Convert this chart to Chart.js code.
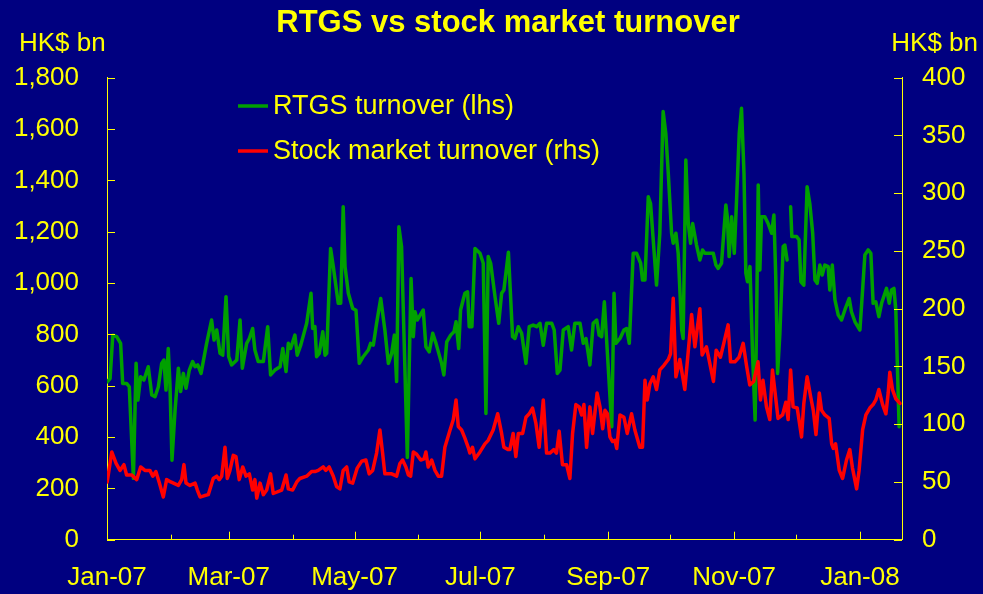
<!DOCTYPE html>
<html>
<head>
<meta charset="utf-8">
<script src="https://cdn.jsdelivr.net/npm/chart.js@4/dist/chart.umd.min.js"></script>
<style>
  html, body { margin: 0; padding: 0; background: #000080; }
  canvas { display: block; }
</style>
</head>
<body>
<canvas id="chart" width="983" height="594"></canvas>
<script>
// x values are days counted from 1 Jan 2007
const monthDay = [0, 31, 59, 90, 120, 151, 181, 212, 243, 273, 304, 334, 365];
const monthLabel = ["Jan-07", "Feb-07", "Mar-07", "Apr-07", "May-07", "Jun-07", "Jul-07",
  "Aug-07", "Sep-07", "Oct-07", "Nov-07", "Dec-07", "Jan-08"];
const leftTicks = [0, 200, 400, 600, 800, 1000, 1200, 1400, 1600, 1800];
const rightTicks = [0, 50, 100, 150, 200, 250, 300, 350, 400];

// RTGS turnover, HK$ bn (lhs)
const rtgsDay = [
  0.1, 1.5, 2.8, 4.7, 6.6, 7.6, 9.5, 10.8, 12.8, 14.1,
  15.0, 16.3, 17.9, 20.0, 21.7, 23.3, 24.9, 26.5, 27.6, 28.6,
  29.7, 30.5, 31.5, 33.0, 34.6, 35.7, 37.0, 38.3, 39.9, 41.5,
  42.7, 44.0, 45.6, 48.3, 50.7, 51.9, 53.2, 54.8, 56.1, 57.7,
  59.0, 60.4, 62.9, 64.5, 65.6, 67.7, 69.0, 70.6, 71.7, 73.3,
  75.8, 77.9, 79.3, 81.4, 83.9, 85.2, 86.8, 87.9, 89.0, 91.1,
  92.2, 94.0, 96.8, 98.9, 99.7, 100.8, 101.6, 102.9, 104.6, 105.7,
  106.5, 108.4, 109.7, 112.1, 113.3, 114.5, 115.4, 117.0, 119.1, 120.7,
  122.3, 124.2, 126.7, 127.8, 129.1, 130.7, 132.7, 134.7, 136.4, 138.0,
  139.3, 140.4, 141.5, 142.8, 145.6, 147.4, 148.5, 149.3, 150.4, 151.4,
  153.3, 154.6, 156.2, 157.9, 159.5, 162.2, 163.3, 164.7, 166.6, 168.2,
  169.2, 170.5, 171.4, 173.5, 174.8, 175.6, 176.9, 178.4, 180.8, 182.4,
  183.7, 184.8, 186.0, 188.1, 189.9, 191.3, 192.4, 194.6, 196.6, 197.8,
  199.4, 201.0, 203.1, 204.7, 206.6, 208.3, 209.9, 211.5, 213.1, 215.6,
  216.8, 218.3, 219.6, 221.2, 223.6, 225.2, 226.8, 229.3, 230.9, 232.2,
  234.1, 235.7, 237.4, 238.6, 239.8, 241.1, 244.7, 245.8, 246.7, 248.7,
  250.6, 251.9, 253.2, 255.1, 256.7, 258.7, 259.6, 260.8, 262.4, 263.5,
  264.8, 266.4, 268.0, 269.6, 270.9, 272.1, 273.7, 274.5, 275.8, 276.9,
  278.6, 279.3, 280.6, 281.8, 282.9, 283.9, 285.8, 287.4, 288.7, 289.8,
  293.9, 295.2, 296.3, 297.9, 300.0, 300.7, 301.6, 302.8, 304.1, 305.2,
  306.5, 307.6, 308.8, 309.7, 310.5, 311.7, 313.0, 314.2, 314.9, 315.7,
  316.5, 317.3, 318.9, 320.5, 322.2, 323.3, 324.2, 325.1, 326.2, 327.8,
  328.6, 329.7, 330.5, 331.4, 332.0, 334.3, 335.5, 336.4, 337.8, 339.4,
  340.7, 342.1, 343.2, 344.3, 345.6, 346.7, 348.0, 349.6, 350.4, 351.6,
  352.9, 354.5, 356.1, 357.7, 359.8, 360.9, 362.6, 365.0, 366.3, 367.4,
  369.0, 370.3, 371.4, 372.7, 374.2, 375.5, 377.9, 379.2, 380.3, 381.5,
  382.4, 384.0
];
const rtgsValue = [
  615, 628, 797, 791, 765, 609, 609, 596, 239, 687,
  544, 635, 622, 674, 564, 557, 596, 687, 700, 583,
  745, 609, 310, 505, 668, 577, 648, 590, 661, 694,
  674, 681, 648, 765, 856, 778, 817, 726, 719, 947,
  713, 681, 700, 856, 668, 765, 784, 823, 739, 694,
  694, 830, 642, 661, 674, 745, 655, 765, 745, 797,
  719, 760, 843, 960, 823, 830, 713, 726, 810, 719,
  726, 1135, 1064, 921, 921, 1297, 1064, 960, 901, 894,
  687, 713, 739, 765, 758, 843, 940, 817, 687, 726,
  797, 616, 1219, 1141, 320, 1018, 791, 888, 856, 869,
  895, 752, 732, 804, 765, 687, 642, 771, 797, 810,
  849, 745, 895, 960, 966, 830, 830, 1135, 1116, 1077,
  492, 1103, 1077, 947, 843, 960, 973, 1120, 791, 784,
  830, 804, 687, 830, 836, 830, 843, 758, 843, 843,
  817, 648, 661, 817, 830, 739, 843, 843, 765, 784,
  681, 843, 856, 797, 791, 927, 440, 960, 765, 784,
  817, 823, 765, 1116, 1116, 1077, 1012, 1012, 1336, 1310,
  1168, 992, 1194, 1668, 1583, 1427, 1194, 1155, 1194, 1116,
  817, 784, 1479, 1232, 1155, 1232, 1148, 1090, 1129, 1116,
  1116, 1070, 1057, 1077, 1304, 1258, 1103, 1258, 1116, 1323,
  1583, 1681, 1427, 1038, 1005, 1064, 713, 466, 843, 1382,
  1051, 1258, 1258, 1232, 1194, 1265, 1025, 648, 804, 1142,
  1148, 1090, null, 1297, 1181, 1181, 1168, 1005, 992, 1375,
  1310, 1194, 1012, 999, 1070, 1031, 1070, 1064, 973, 1070,
  934, 875, 856, 895, 940, 888, 849, 817, 973, 1109,
  1129, 1116, 921, 927, 869, 921, 979, 921, 973, 979,
  895, 440
];

// Stock market turnover, HK$ bn (rhs)
const stockDay = [
  0.1, 2.3, 4.4, 6.3, 8.2, 9.5, 12.0, 14.4, 16.3, 18.4,
  20.8, 22.2, 23.7, 25.4, 27.3, 28.9, 30.9, 34.6, 36.2, 37.3,
  38.3, 40.2, 42.7, 43.8, 45.1, 47.0, 49.1, 51.5, 53.2, 54.4,
  55.6, 57.2, 58.3, 59.6, 61.2, 62.5, 64.1, 65.8, 67.4, 69.0,
  70.6, 71.7, 72.6, 74.2, 75.8, 77.4, 79.3, 80.6, 84.7, 86.8,
  87.9, 90.0, 92.0, 93.5, 96.8, 99.2, 100.8, 102.4, 104.8, 106.1,
  107.7, 109.7, 111.3, 112.9, 114.5, 116.2, 117.4, 119.1, 121.3, 123.5,
  125.5, 127.1, 128.8, 130.7, 132.3, 133.6, 134.7, 138.0, 140.4, 142.0,
  143.3, 144.9, 146.1, 147.2, 148.5, 150.1, 152.1, 153.7, 154.6, 155.7,
  157.4, 159.0, 160.6, 162.2, 163.8, 166.3, 167.9, 169.2, 170.3, 171.9,
  173.5, 175.1, 175.9, 177.2, 178.4, 180.8, 183.2, 184.8, 187.2, 189.4,
  191.3, 192.4, 194.5, 195.3, 196.9, 198.2, 199.4, 201.5, 203.1, 204.7,
  206.3, 207.9, 209.5, 211.5, 213.1, 214.7, 216.6, 217.9, 219.2, 220.8,
  222.8, 224.4, 225.7, 227.3, 228.9, 230.1, 231.2, 232.5, 234.1, 235.4,
  237.6, 239.0, 240.3, 241.4, 242.6, 243.8, 245.1, 246.2, 247.1, 248.7,
  250.6, 252.2, 254.3, 255.9, 258.3, 259.6, 260.8, 261.9, 263.2, 264.8,
  266.4, 268.0, 270.0, 272.1, 273.2, 274.5, 275.8, 277.7, 280.1, 283.4,
  285.0, 287.4, 288.5, 290.6, 294.0, 295.3, 297.4, 299.0, 301.1, 302.3,
  304.4, 306.4, 308.4, 310.0, 311.6, 313.5, 315.6, 316.8, 318.0, 319.7,
  321.3, 322.6, 323.7, 325.3, 327.5, 329.1, 330.2, 331.4, 332.6, 334.6,
  336.7, 337.8, 339.4, 341.1, 342.4, 343.7, 345.3, 346.4, 348.0, 350.1,
  351.3, 352.1, 353.2, 355.0, 356.6, 358.5, 360.1, 361.4, 363.4, 364.6,
  366.3, 367.9, 369.8, 371.4, 372.7, 374.2, 376.0, 377.6, 378.7, 379.5,
  380.8, 382.4, 384.4
];
const stockValue = [
  50, 76, 66, 60, 65, 56, 56, 52, 63, 60,
  60, 55, 59, 49, 37, 52, 50, 47, 52, 65,
  49, 47, 49, 43, 37, 38, 39, 53, 55, 52,
  55, 80, 53, 60, 73, 72, 52, 63, 55, 57,
  43, 52, 36, 49, 39, 43, 57, 40, 43, 56,
  44, 43, 50, 53, 55, 59, 59, 60, 63, 60,
  63, 55, 46, 44, 60, 63, 50, 49, 62, 68,
  69, 57, 60, 75, 95, 75, 57, 57, 55, 66,
  69, 63, 56, 55, 76, 74, 69, 70, 76, 63,
  69, 60, 55, 55, 80, 95, 104, 121, 98, 95,
  88, 80, 75, 80, 70, 76, 83, 86, 95, 109,
  92, 80, 78, 78, 92, 72, 92, 92, 106, 109,
  114, 101, 80, 121, 75, 75, 78, 75, 94, 65,
  65, 53, 92, 117, 115, 108, 117, 80, 115, 92,
  127, 115, 96, 112, 109, 89, 85, 86, 79, 108,
  106, 92, 109, 95, 80, 80, 138, 121, 135, 141,
  130, 147, 151, 156, 161, 209, 141, 156, 130, 195,
  167, 200, 160, 167, 137, 164, 158, 170, 186, 154,
  154, 158, 170, 151, 134, 137, 154, 121, 138, 115,
  104, 147, 130, 105, 108, 119, 104, 147, 115, 114,
  89, 118, 141, 124, 112, 91, 127, 112, 108, 105,
  83, 79, 83, 60, 53, 69, 78, 62, 44, 60,
  95, 108, 114, 117, 121, 130, 117, 109, 127, 145,
  130, 122, 118
];

const YELLOW = "#ffff00";
const NAVY = "#000080";
const GREEN = "#00a000";
const RED = "#ff0000";
const FONT = "'Liberation Sans', Arial, sans-serif";

function toPoints(days, values) {
  return days.map((d, i) => ({ x: d, y: values[i] }));
}

// background, inside tick marks, unit labels, legend and title
const decor = {
  id: "decor",
  beforeDraw(chart) {
    const ctx = chart.ctx;
    ctx.save();
    ctx.fillStyle = NAVY;
    ctx.fillRect(0, 0, chart.width, chart.height);
    ctx.restore();
  },
  afterDraw(chart) {
    const ctx = chart.ctx;
    const a = chart.chartArea;
    const { x, y, y2 } = chart.scales;
    ctx.save();
    ctx.strokeStyle = YELLOW;
    ctx.lineWidth = 1;
    ctx.beginPath();
    monthDay.forEach((d, i) => {
      const px = Math.round(x.getPixelForValue(d)) + 0.5;
      const len = i % 2 === 0 ? 8 : 5;
      ctx.moveTo(px, a.bottom);
      ctx.lineTo(px, a.bottom - len);
    });
    leftTicks.forEach(v => {
      const py = Math.round(y.getPixelForValue(v)) + 0.5;
      ctx.moveTo(a.left, py);
      ctx.lineTo(a.left + 8, py);
    });
    rightTicks.forEach(v => {
      const py = Math.round(y2.getPixelForValue(v)) + 0.5;
      ctx.moveTo(a.right, py);
      ctx.lineTo(a.right - 8, py);
    });
    ctx.stroke();

    ctx.fillStyle = YELLOW;
    ctx.textBaseline = "middle";
    ctx.font = "bold 31px " + FONT;
    ctx.textAlign = "center";
    ctx.fillText("RTGS vs stock market turnover", 508, 23);

    ctx.font = "26px " + FONT;
    ctx.textAlign = "left";
    ctx.fillText("HK$ bn", 19, 44);
    ctx.textAlign = "right";
    ctx.fillText("HK$ bn", 978, 44);

    // legend
    const items = [
      { label: "RTGS turnover (lhs)", color: GREEN, y: 106 },
      { label: "Stock market turnover (rhs)", color: RED, y: 151 }
    ];
    ctx.font = "27px " + FONT;
    ctx.textAlign = "left";
    items.forEach(it => {
      ctx.strokeStyle = it.color;
      ctx.lineWidth = 3.5;
      ctx.beginPath();
      ctx.moveTo(238, it.y);
      ctx.lineTo(268, it.y);
      ctx.stroke();
      ctx.fillText(it.label, 273, it.y + 1);
    });
    ctx.restore();
  }
};

new Chart(document.getElementById("chart"), {
  type: "line",
  data: {
    datasets: [
      {
        label: "RTGS turnover (lhs)",
        data: toPoints(rtgsDay, rtgsValue),
        yAxisID: "y",
        borderColor: GREEN,
        borderWidth: 3.5,
        borderJoinStyle: "round",
        borderCapStyle: "round",
        pointRadius: 0,
        tension: 0,
        spanGaps: false,
        order: 1
      },
      {
        label: "Stock market turnover (rhs)",
        data: toPoints(stockDay, stockValue),
        yAxisID: "y2",
        borderColor: RED,
        borderWidth: 3.5,
        borderJoinStyle: "round",
        borderCapStyle: "round",
        pointRadius: 0,
        tension: 0,
        order: 0
      }
    ]
  },
  options: {
    responsive: false,
    animation: false,
    layout: { padding: { top: 77.7, left: 0, right: 0, bottom: 0 } },
    plugins: {
      legend: { display: false },
      title: { display: false },
      tooltip: { enabled: false }
    },
    scales: {
      x: {
        type: "linear",
        min: 0,
        max: 385.4,
        afterBuildTicks: s => { s.ticks = monthDay.map(v => ({ value: v })); },
        afterFit: s => { s.height = 54.3; },
        grid: { drawOnChartArea: false, drawTicks: false },
        border: { display: true, color: YELLOW, width: 1 },
        ticks: {
          autoSkip: false,
          maxRotation: 0,
          padding: 23,
          color: YELLOW,
          font: { family: FONT, size: 26 },
          callback: (v, i) => (i % 2 === 0 ? monthLabel[i] : "")
        }
      },
      y: {
        position: "left",
        min: 0,
        max: 1800,
        afterBuildTicks: s => { s.ticks = leftTicks.map(v => ({ value: v })); },
        afterFit: s => { s.width = 107; },
        grid: { drawOnChartArea: false, drawTicks: false },
        border: { display: true, color: YELLOW, width: 1 },
        ticks: {
          padding: 28,
          color: YELLOW,
          font: { family: FONT, size: 26 },
          callback: v => v.toLocaleString("en-US")
        }
      },
      y2: {
        position: "right",
        min: 0,
        max: 400,
        afterBuildTicks: s => { s.ticks = rightTicks.map(v => ({ value: v })); },
        afterFit: s => { s.width = 81; },
        grid: { drawOnChartArea: false, drawTicks: false },
        border: { display: true, color: YELLOW, width: 1 },
        ticks: {
          padding: 20,
          color: YELLOW,
          font: { family: FONT, size: 26 }
        }
      }
    }
  },
  plugins: [decor]
});
</script>
</body>
</html>
